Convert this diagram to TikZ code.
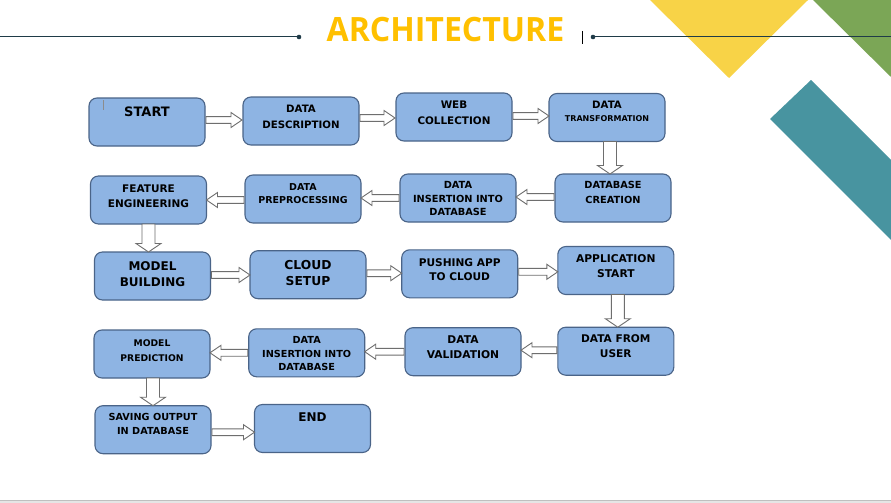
\documentclass[tikz,border=0pt]{standalone}
\usepackage{fontspec}
\setmainfont{Open Sans}
\newfontfamily\boxfont{DejaVu Sans}
\usetikzlibrary{calc}
\definecolor{boxfill}{HTML}{8EB4E3}
\definecolor{boxline}{HTML}{4A6488}
\definecolor{titlec}{HTML}{FFC000}
\definecolor{linec}{HTML}{1F3B48}
\definecolor{yel}{HTML}{F8D347}
\definecolor{grn}{HTML}{7BA656}
\definecolor{teal}{HTML}{4894A0}
\definecolor{arrline}{HTML}{6E6E6E}
\newcommand\bt[5]{\parbox[c][48pt][t]{116pt}{\boxfont\fontsize{#1}{#2}\selectfont\bfseries\centering\vspace*{#3pt}#5\par}}
\newcommand\rarr[2]{\draw[blk] let \p1=#1, \p2=#2 in (\x1,\y1+3.4pt) -- (\x2-11pt,\y1+3.4pt) -- (\x2-11pt,\y1+7.5pt) -- (\x2,\y1) -- (\x2-11pt,\y1-7.5pt) -- (\x2-11pt,\y1-3.4pt) -- (\x1,\y1-3.4pt) -- cycle;}
\newcommand\larr[2]{\draw[blk] let \p1=#1, \p2=#2 in (\x1,\y1+3.4pt) -- (\x2+11pt,\y1+3.4pt) -- (\x2+11pt,\y1+7.5pt) -- (\x2,\y1) -- (\x2+11pt,\y1-7.5pt) -- (\x2+11pt,\y1-3.4pt) -- (\x1,\y1-3.4pt) -- cycle;}
\newcommand\darr[2]{\draw[blk] let \p1=#1, \p2=#2 in (\x1-6.5pt,\y1) -- (\x1-6.5pt,\y2+8.5pt) -- (\x1-12.5pt,\y2+8.5pt) -- (\x1,\y2) -- (\x1+12.5pt,\y2+8.5pt) -- (\x1+6.5pt,\y2+8.5pt) -- (\x1+6.5pt,\y1) -- cycle;}
\tikzset{
  box/.style={draw=boxline, fill=boxfill, line width=1.1pt, rounded corners=8pt, inner sep=0pt, outer sep=0pt, minimum width=116pt, minimum height=48pt},
  blk/.style={draw=arrline, fill=white, line width=0.9pt, line join=miter},
  tline/.style={draw=linec, line width=1pt},
}
\begin{document}
\begin{tikzpicture}[x=1pt,y=-1pt]
\useasboundingbox (0,0) rectangle (891,503);
\fill[white] (0,0) rectangle (891,503);
% decorations
\fill[yel] (650,0) -- (808,0) -- (729,78) -- cycle;
\fill[grn] (813,0) -- (891,0) -- (891,77) -- cycle;
\fill[teal] (811,80) -- (891,160) -- (891,240) -- (770,119) -- cycle;
\fill[black!10] (0,500) rectangle (891,503);
\draw[black!25, line width=0.8pt] (0,500) -- (891,500);
% title
\draw[tline] (0,37) -- (299,37);
\fill[linec] (299,37) circle (2.3);
\draw[tline] (593,37) -- (891,37);
\fill[linec] (593,37) circle (2.3);
\node[text=titlec, inner sep=0pt] (title) at (445.5,30) {\scalebox{0.957}[1]{\fontsize{33.5}{36}\selectfont\bfseries ARCHITECTURE}};
\draw[black, line width=0.7pt] (582,31) -- (582,44);
% boxes
\node[box] (start) at (147,122) {\bt{13}{15}{9.26}{}{START}};
\node[box] (dd) at (301,121) {\bt{10.2}{15.7}{8.28}{}{DATA\\DESCRIPTION}};
\node[box] (web) at (454,117) {\bt{10.4}{15.3}{8.2}{}{WEB\\COLLECTION}};
\node[box] (dt) at (607,117.5) {\bt{10.2}{12.4}{7.8}{}{DATA\\{\fontsize{8}{12.4}\selectfont TRANSFORMATION}}};
\node[box] (fe) at (148.5,200) {\bt{10.5}{15.2}{8.87}{}{FEATURE\\ENGINEERING}};
\node[box] (pre) at (303,199) {\bt{9.5}{13.8}{8.24}{}{DATA\\PREPROCESSING}};
\node[box] (ins1) at (458,198) {\bt{9.8}{13.7}{7.43}{}{DATA\\INSERTION INTO\\DATABASE}};
\node[box] (dbc) at (613,198) {\bt{9.8}{14.5}{7.43}{}{DATABASE\\CREATION}};
\node[box] (mb) at (152.5,276) {\bt{12}{16}{9.13}{}{MODEL\\BUILDING}};
\node[box] (cloud) at (308,274.7) {\bt{12.3}{16.7}{9.32}{}{CLOUD\\SETUP}};
\node[box] (push) at (459.7,273.8) {\bt{10.6}{14.7}{8.34}{}{PUSHING APP\\TO CLOUD}};
\node[box] (app) at (615.8,270.5) {\bt{10.7}{15.4}{7.9}{}{APPLICATION\\START}};
\node[box] (mp) at (152,354) {\bt{9.2}{15.3}{9.65}{}{MODEL\\PREDICTION}};
\node[box] (ins2) at (306.7,352.8) {\bt{9.7}{13.5}{7.66}{}{DATA\\INSERTION INTO\\DATABASE}};
\node[box] (val) at (463,351.7) {\bt{10.7}{15.3}{7.6}{}{DATA\\VALIDATION}};
\node[box] (dfu) at (615.8,351.2) {\bt{10.6}{15}{7.74}{}{DATA FROM\\USER}};
\node[box] (sav) at (153,429.7) {\bt{9.7}{14}{8.06}{}{SAVING OUTPUT\\IN DATABASE}};
\node[box] (end) at (312.5,428.5) {\bt{12}{14}{8.63}{}{END}};
\draw[black!45, line width=0.7pt] (103,100) -- (103,110);
% arrows
\rarr{($(start.east)+(1,-2)$)}{($(dd.west)+(-1,0)$)}
\rarr{($(dd.east)+(1,-3)$)}{($(web.west)+(-1,0)$)}
\rarr{($(web.east)+(1,-1)$)}{(dt.west)}
\darr{($(dt.south)+(3,0)$)}{(dbc.north)}
\larr{($(dbc.west)+(-1,-1)$)}{(ins1.east)}
\larr{($(ins1.west)+(-1,0)$)}{(pre.east)}
\larr{($(pre.west)+(-1,1)$)}{(fe.east)}
\darr{(fe.south)}{(mb.north)}
\rarr{($(mb.east)+(1,-1)$)}{(cloud.west)}
\rarr{($(cloud.east)+(1,-1.5)$)}{(push.west)}
\rarr{($(push.east)+(1,-2)$)}{(app.west)}
\darr{($(app.south)+(2,0)$)}{(dfu.north)}
\larr{($(dfu.west)+(-1,-1)$)}{(val.east)}
\larr{($(val.west)+(-1,0)$)}{(ins2.east)}
\larr{($(ins2.west)+(-1,0)$)}{(mp.east)}
\darr{($(mp.south)+(1,0)$)}{(sav.north)}
\rarr{($(sav.east)+(1,2.5)$)}{(end.west)}
\end{tikzpicture}
\end{document}
